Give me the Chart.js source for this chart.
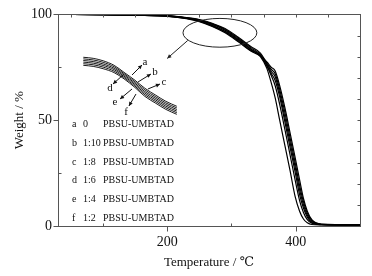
<!DOCTYPE html>
<html>
<head>
<meta charset="utf-8">
<script src="https://cdn.jsdelivr.net/npm/chart.js@4"></script>
<style>
html, body { margin: 0; padding: 0; background: #fff; }
#wrap { position: relative; width: 372px; height: 276px; }
#main { position: absolute; left: 0; top: 0; }
#insetBox { position: absolute; left: 80px; top: 50px; width: 110px; height: 70px; }
</style>
</head>
<body>
<div id="wrap">
  <canvas id="main" width="372" height="276"></canvas>
  <div id="insetBox"><canvas id="inset" width="110" height="70"></canvas></div>
</div>
<script>
// TGA curves, weight % vs temperature
const temps = [30, 100, 150, 200, 230, 250, 270, 290, 310, 330, 345, 355, 362, 368, 375, 383, 391, 399, 406, 412, 418, 425, 440, 500];
const curveA = [100, 99.9, 99.6, 99.3, 98.3, 97.2, 95.2, 92.5, 88.4, 83.7, 80.0, 74.5, 67.5, 60.5, 50.0, 38.2, 26.4, 14.0, 7.0, 3.3, 1.5, 0.7, 0.5, 0.4];
const curveB = [100, 99.9, 99.6, 99.2, 98.2, 97.0, 94.8, 92.0, 88.0, 83.5, 80.5, 75.5, 71.0, 66.3, 57.5, 45.8, 33.8, 21.8, 12.0, 6.4, 3.0, 1.3, 0.6, 0.4];
const curveC = [100, 99.9, 99.7, 99.3, 98.4, 97.4, 95.5, 92.9, 88.9, 84.3, 81.0, 76.0, 72.0, 68.8, 61.0, 49.3, 37.4, 25.6, 14.8, 8.5, 4.2, 1.7, 0.7, 0.5];
const curveD = [100, 99.9, 99.6, 99.2, 98.1, 96.8, 94.6, 91.7, 87.6, 83.0, 80.7, 76.5, 73.0, 70.5, 62.8, 51.5, 39.7, 27.9, 17.1, 10.0, 5.1, 2.1, 0.7, 0.5];
const curveE = [100, 99.9, 99.7, 99.4, 98.5, 97.6, 95.8, 93.3, 89.3, 84.8, 81.7, 77.0, 74.0, 72.0, 64.6, 53.8, 41.9, 30.1, 19.2, 11.5, 6.0, 2.6, 0.8, 0.5];
const curveF = [100, 99.9, 99.6, 99.1, 98.0, 96.6, 94.3, 91.3, 87.2, 82.7, 80.3, 77.5, 75.0, 73.2, 66.3, 56.0, 44.3, 32.4, 21.8, 13.0, 7.0, 3.0, 0.9, 0.5];

const curveKeys = ['a', 'b', 'c', 'd', 'e', 'f'];
const ratios = ['0', '1:10', '1:8', '1:6', '1:4', '1:2'];
const sampleName = 'PBSU-UMBTAD';
const xTicks = [200, 400];
const yTicks = [0, 50, 100];

// magnified part shown in the inset (arbitrary units)
const insetX = [3, 12, 21, 31, 40, 50, 59, 69, 78, 88];
const inset1 = [89.6, 88.1, 84.6, 78.1, 68.1, 56.7, 45.3, 35.3, 26.7, 19.6];
const inset2 = [87.3, 85.8, 82.4, 76.1, 66.3, 54.6, 43.0, 33.0, 24.4, 17.3];
const inset3 = [85.0, 83.5, 80.1, 74.0, 64.5, 52.5, 40.6, 30.7, 22.1, 15.0];
const inset4 = [82.7, 81.2, 77.9, 72.0, 62.6, 50.5, 38.3, 28.4, 19.8, 12.7];
const inset5 = [80.4, 78.9, 75.6, 69.8, 60.7, 48.4, 36.0, 26.1, 17.5, 10.4];
const inset6 = [78.1, 76.6, 73.3, 67.7, 58.8, 46.4, 33.7, 23.8, 15.2, 8.1];
// label text spot and arrow (from -> to) in inset units
const insetLabels = [
  {t: 'a', x: 59, y: 83, from: [47.3, 64.3], to: [56.4, 78.6]},
  {t: 'b', x: 68.2, y: 68.6, from: [52.7, 54.3], to: [64.5, 65.7]},
  {t: 'c', x: 76.4, y: 54.3, from: [61.8, 44.3], to: [72.7, 51.4]},
  {t: 'd', x: 27.3, y: 45.7, from: [39.1, 64.3], to: [30, 51.4]},
  {t: 'e', x: 31.8, y: 25.7, from: [47.3, 44.3], to: [36.4, 30]},
  {t: 'f', x: 41.8, y: 11.4, from: [50.9, 37.1], to: [44.5, 20]}
];

const serif = "'Liberation Serif', 'DejaVu Serif', serif";
const ink = '#111';

function toPts(xs, ys) {
  return xs.map(function(x, i) { return {x: x, y: ys[i]}; });
}

function arrow(ctx, x0, y0, x1, y1) {
  ctx.beginPath();
  ctx.moveTo(x0, y0);
  ctx.lineTo(x1, y1);
  ctx.stroke();
  const ang = Math.atan2(y1 - y0, x1 - x0);
  const L = 4.5, W = 0.45;
  ctx.beginPath();
  ctx.moveTo(x1, y1);
  ctx.lineTo(x1 - L * Math.cos(ang - W), y1 - L * Math.sin(ang - W));
  ctx.lineTo(x1 - L * Math.cos(ang + W), y1 - L * Math.sin(ang + W));
  ctx.closePath();
  ctx.fill();
}

// box, tick marks, ellipse + arrow, and the sample list
const framePlugin = {
  id: 'frame',
  afterDraw(chart) {
    const ctx = chart.ctx, a = chart.chartArea;
    const xs = chart.scales.x, ys = chart.scales.y;
    const L = Math.round(a.left) + 0.5, R = Math.round(a.right) + 0.5;
    const T = Math.round(a.top) + 0.5, B = Math.round(a.bottom) + 0.5;
    ctx.save();
    ctx.strokeStyle = '#555';
    ctx.lineWidth = 1;
    ctx.strokeRect(L, T, R - L, B - T);
    ctx.beginPath();
    // left: major out, minor in
    [0, 50, 100].forEach(function(v) {
      const y = Math.round(ys.getPixelForValue(v)) + 0.5;
      ctx.moveTo(L - 5, y); ctx.lineTo(L, y);
    });
    [25, 75].forEach(function(v) {
      const y = Math.round(ys.getPixelForValue(v)) + 0.5;
      ctx.moveTo(L, y); ctx.lineTo(L + 3, y);
    });
    // right: every 10, inward
    for (let v = 10; v < 100; v += 10) {
      const y = Math.round(ys.getPixelForValue(v)) + 0.5;
      ctx.moveTo(R, y); ctx.lineTo(R - 3, y);
    }
    // bottom
    [200, 400].forEach(function(v) {
      const x = Math.round(xs.getPixelForValue(v)) + 0.5;
      ctx.moveTo(x, B); ctx.lineTo(x, B + 5);
    });
    [100, 300].forEach(function(v) {
      const x = Math.round(xs.getPixelForValue(v)) + 0.5;
      ctx.moveTo(x, B); ctx.lineTo(x, B - 3);
    });
    // top: every 50, inward
    for (let v = 50; v < 500; v += 50) {
      const x = Math.round(xs.getPixelForValue(v)) + 0.5;
      ctx.moveTo(x, T); ctx.lineTo(x, T + 3);
    }
    ctx.stroke();

    // ellipse marking the zoomed region
    ctx.strokeStyle = '#222';
    const cx = xs.getPixelForValue(282), cy = ys.getPixelForValue(91.3);
    const rx = xs.getPixelForValue(282 + 57.5) - cx;
    const ry = cy - ys.getPixelForValue(91.3 + 6.8);
    ctx.beginPath();
    ctx.ellipse(cx, cy, rx, ry, 0, 0, Math.PI * 2);
    ctx.stroke();
    ctx.fillStyle = '#222';
    arrow(ctx, xs.getPixelForValue(232), ys.getPixelForValue(87.7),
      xs.getPixelForValue(200), ys.getPixelForValue(79.2));

    // sample list
    ctx.fillStyle = ink;
    ctx.textBaseline = 'middle';
    ctx.textAlign = 'left';
    ctx.font = '10px ' + serif;
    for (let i = 0; i < curveKeys.length; i++) {
      const y = a.bottom - 8 - (curveKeys.length - 1 - i) * 18.7;
      ctx.fillText(curveKeys[i], a.left + 14, y);
      ctx.fillText(ratios[i], a.left + 25, y);
      ctx.fillText(sampleName, a.left + 45, y);
    }
    ctx.restore();
  }
};

const mainSets = [curveA, curveB, curveC, curveD, curveE, curveF].map(function(s, i) {
  return {
    label: curveKeys[i],
    data: toPts(temps, s),
    borderColor: '#000',
    borderWidth: 1.2,
    pointRadius: 0,
    fill: false,
    cubicInterpolationMode: 'monotone'
  };
});

new Chart(document.getElementById('main'), {
  type: 'line',
  data: {datasets: mainSets},
  options: {
    responsive: false,
    animation: false,
    devicePixelRatio: 1,
    layout: {padding: {top: 14, right: 12, left: 0, bottom: 0}},
    plugins: {legend: {display: false}, tooltip: {enabled: false}},
    scales: {
      x: {
        type: 'linear', min: 30, max: 500,
        afterBuildTicks: function(s) { s.ticks = xTicks.map(function(v) { return {value: v}; }); },
        afterFit: function(s) { s.height = 50; },
        grid: {display: false, drawTicks: false},
        border: {display: false},
        ticks: {padding: 8, color: ink, font: {family: serif, size: 14}, maxRotation: 0},
        title: {display: true, text: 'Temperature / ℃', color: ink, font: {family: serif, size: 13}, padding: {top: 0, bottom: 6}}
      },
      y: {
        type: 'linear', min: 0, max: 100,
        afterBuildTicks: function(s) { s.ticks = yTicks.map(function(v) { return {value: v}; }); },
        afterFit: function(s) { s.width = 58; },
        grid: {display: false, drawTicks: false},
        border: {display: false},
        ticks: {padding: 6, color: ink, font: {family: serif, size: 14}},
        title: {display: true, text: 'Weight / %', color: ink, font: {family: serif, size: 13}, padding: {top: 12, bottom: 0}}
      }
    }
  },
  plugins: [framePlugin]
});

// inset: magnified curves with a-f labels
const labelPlugin = {
  id: 'insetLabels',
  afterDraw(chart) {
    const ctx = chart.ctx, xs = chart.scales.x, ys = chart.scales.y;
    ctx.save();
    ctx.strokeStyle = '#111';
    ctx.fillStyle = '#111';
    ctx.lineWidth = 1;
    ctx.font = '11px ' + serif;
    ctx.textAlign = 'center';
    ctx.textBaseline = 'middle';
    insetLabels.forEach(function(l) {
      arrow(ctx, xs.getPixelForValue(l.from[0]), ys.getPixelForValue(l.from[1]),
        xs.getPixelForValue(l.to[0]), ys.getPixelForValue(l.to[1]));
      ctx.fillText(l.t, xs.getPixelForValue(l.x), ys.getPixelForValue(l.y));
    });
    ctx.restore();
  }
};

const insetSets = [inset1, inset2, inset3, inset4, inset5, inset6].map(function(s) {
  return {
    data: toPts(insetX, s),
    borderColor: '#000',
    borderWidth: 0.9,
    pointRadius: 0,
    fill: false,
    cubicInterpolationMode: 'monotone',
    clip: false
  };
});

new Chart(document.getElementById('inset'), {
  type: 'line',
  data: {datasets: insetSets},
  options: {
    responsive: false,
    animation: false,
    devicePixelRatio: 1,
    layout: {padding: 0},
    plugins: {legend: {display: false}, tooltip: {enabled: false}},
    scales: {
      x: {type: 'linear', min: 0, max: 100, display: false},
      y: {type: 'linear', min: 0, max: 100, display: false}
    }
  },
  plugins: [labelPlugin]
});
</script>
</body>
</html>
